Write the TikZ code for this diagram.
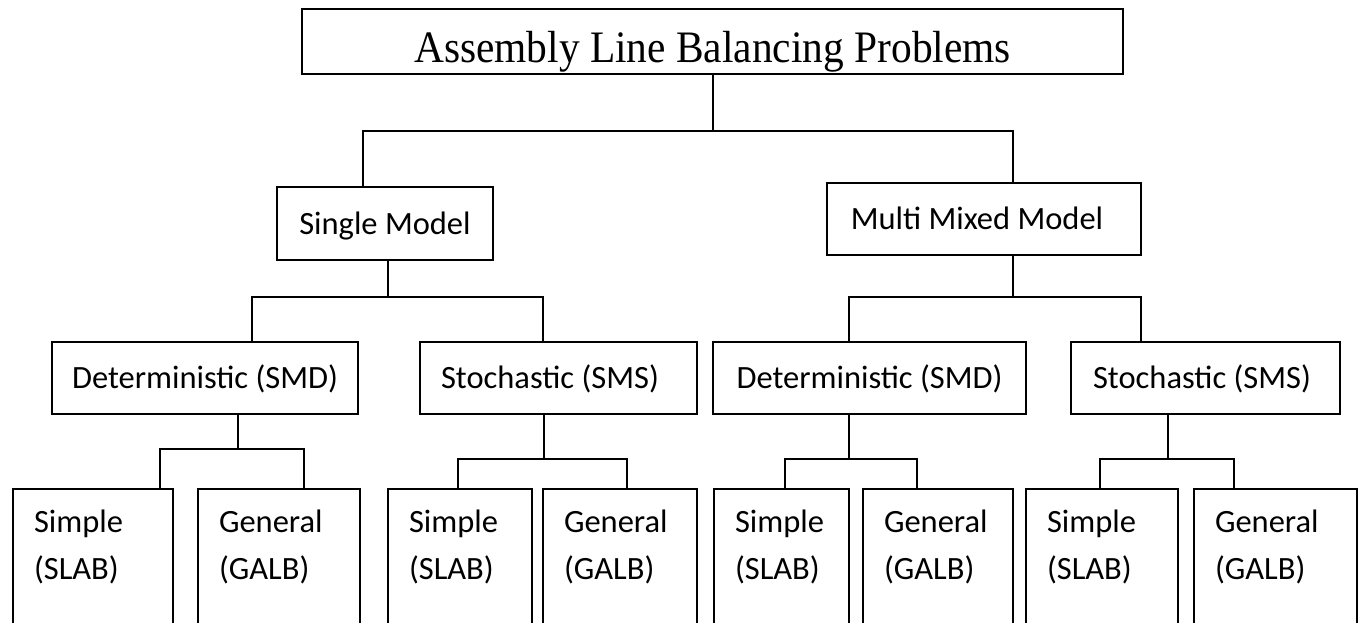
\documentclass[tikz,border=0pt]{standalone}
\usepackage{fontspec}
\newfontfamily\carl{Carlito}
\newfontfamily\tnr[FakeStretch=0.92]{Liberation Serif}
\begin{document}
\begin{tikzpicture}[x=1pt,y=-1pt,
  line width=1.6pt,
  box/.style={draw, inner sep=0pt, font=\carl\fontsize{32.5}{39}\selectfont,
              text height=21pt, text depth=0pt},
  titlebox/.style={draw, inner sep=0pt, font=\tnr\fontsize{45}{50}\selectfont,
              text height=41pt, text depth=0pt},
  leaf/.style={draw, inner sep=0pt, minimum height=211pt},
  leaftext/.style={inner sep=0pt, anchor=base west, xshift=21pt, yshift=-44pt,
              font=\carl\fontsize{32.5}{47}\selectfont},
  conn/.style={draw, line width=1.6pt}]
\useasboundingbox (0,0) rectangle (1359,622);
\clip (0,0) rectangle (1359,622);

% boxes
\node[titlebox, minimum width=821pt, minimum height=65pt] (top) at (712.5,41.5) {Assembly Line Balancing Problems};
\node[box, minimum width=216pt, minimum height=73pt] (sm) at (385,223.5) {Single Model};
\node[box, minimum width=314pt, minimum height=72pt] (mm) at (984,219) {\hspace*{-14pt}Multi Mixed Model};
\node[box, minimum width=306pt, minimum height=72pt] (d1) at (205,378) {Deterministic (SMD)};
\node[box, minimum width=277pt, minimum height=72pt] (s1) at (558.5,378) {\hspace*{-17pt}Stochastic (SMS)};
\node[box, minimum width=313pt, minimum height=72pt] (d2) at (869.5,378) {Deterministic (SMD)};
\node[box, minimum width=269pt, minimum height=72pt] (s2) at (1205.5,378) {\hspace*{-7pt}Stochastic (SMS)};

% leaves
\node[leaf, minimum width=160pt] (l1) at (93,594.5) {};
\node[leaf, minimum width=162pt] (l2) at (279,594.5) {};
\node[leaf, minimum width=144pt] (l3) at (460,594.5) {};
\node[leaf, minimum width=154pt] (l4) at (620,594.5) {};
\node[leaf, minimum width=135pt] (l5) at (781.5,594.5) {};
\node[leaf, minimum width=150pt] (l6) at (938,594.5) {};
\node[leaf, minimum width=152pt] (l7) at (1102,594.5) {};
\node[leaf, minimum width=163pt] (l8) at (1275.5,594.5) {};

\foreach \n/\a/\b in {l1/Simple/SLAB, l2/General/GALB, l3/Simple/SLAB, l4/General/GALB,
                      l5/Simple/SLAB, l6/General/GALB, l7/Simple/SLAB, l8/General/GALB}
  \node[leaftext] (\n t) at (\n.north west) {\begin{tabular}[t]{@{}l@{}}\a\\(\b)\end{tabular}};

% junction points
\coordinate (j0) at (713,131);  \coordinate (j0a) at (363,131);  \coordinate (j0b) at (1013,131);
\coordinate (j1) at (388,297);  \coordinate (j1a) at (252,297);  \coordinate (j1b) at (543,297);
\coordinate (j2) at (1013,297); \coordinate (j2a) at (849,297);  \coordinate (j2b) at (1141,297);
\coordinate (j3) at (238,449);  \coordinate (j3a) at (160,449);  \coordinate (j3b) at (304,449);
\coordinate (j4) at (544,459);  \coordinate (j4a) at (458,459);  \coordinate (j4b) at (627,459);
\coordinate (j5) at (849,459);  \coordinate (j5a) at (785,459);  \coordinate (j5b) at (917,459);
\coordinate (j6) at (1168,459); \coordinate (j6a) at (1100,459); \coordinate (j6b) at (1234,459);

% connectors
\draw[conn] (top.south -| j0) -- (j0);
\draw[conn] (sm.north -| j0a) -- (j0a) -- (j0b) -- (mm.north -| j0b);
\draw[conn] (sm.south -| j1) -- (j1);
\draw[conn] (d1.north -| j1a) -- (j1a) -- (j1b) -- (s1.north -| j1b);
\draw[conn] (mm.south -| j2) -- (j2);
\draw[conn] (d2.north -| j2a) -- (j2a) -- (j2b) -- (s2.north -| j2b);
\draw[conn] (d1.south -| j3) -- (j3);
\draw[conn] (l1.north -| j3a) -- (j3a) -- (j3b) -- (l2.north -| j3b);
\draw[conn] (s1.south -| j4) -- (j4);
\draw[conn] (l3.north -| j4a) -- (j4a) -- (j4b) -- (l4.north -| j4b);
\draw[conn] (d2.south -| j5) -- (j5);
\draw[conn] (l5.north -| j5a) -- (j5a) -- (j5b) -- (l6.north -| j5b);
\draw[conn] (s2.south -| j6) -- (j6);
\draw[conn] (l7.north -| j6a) -- (j6a) -- (j6b) -- (l8.north -| j6b);
\end{tikzpicture}
\end{document}
